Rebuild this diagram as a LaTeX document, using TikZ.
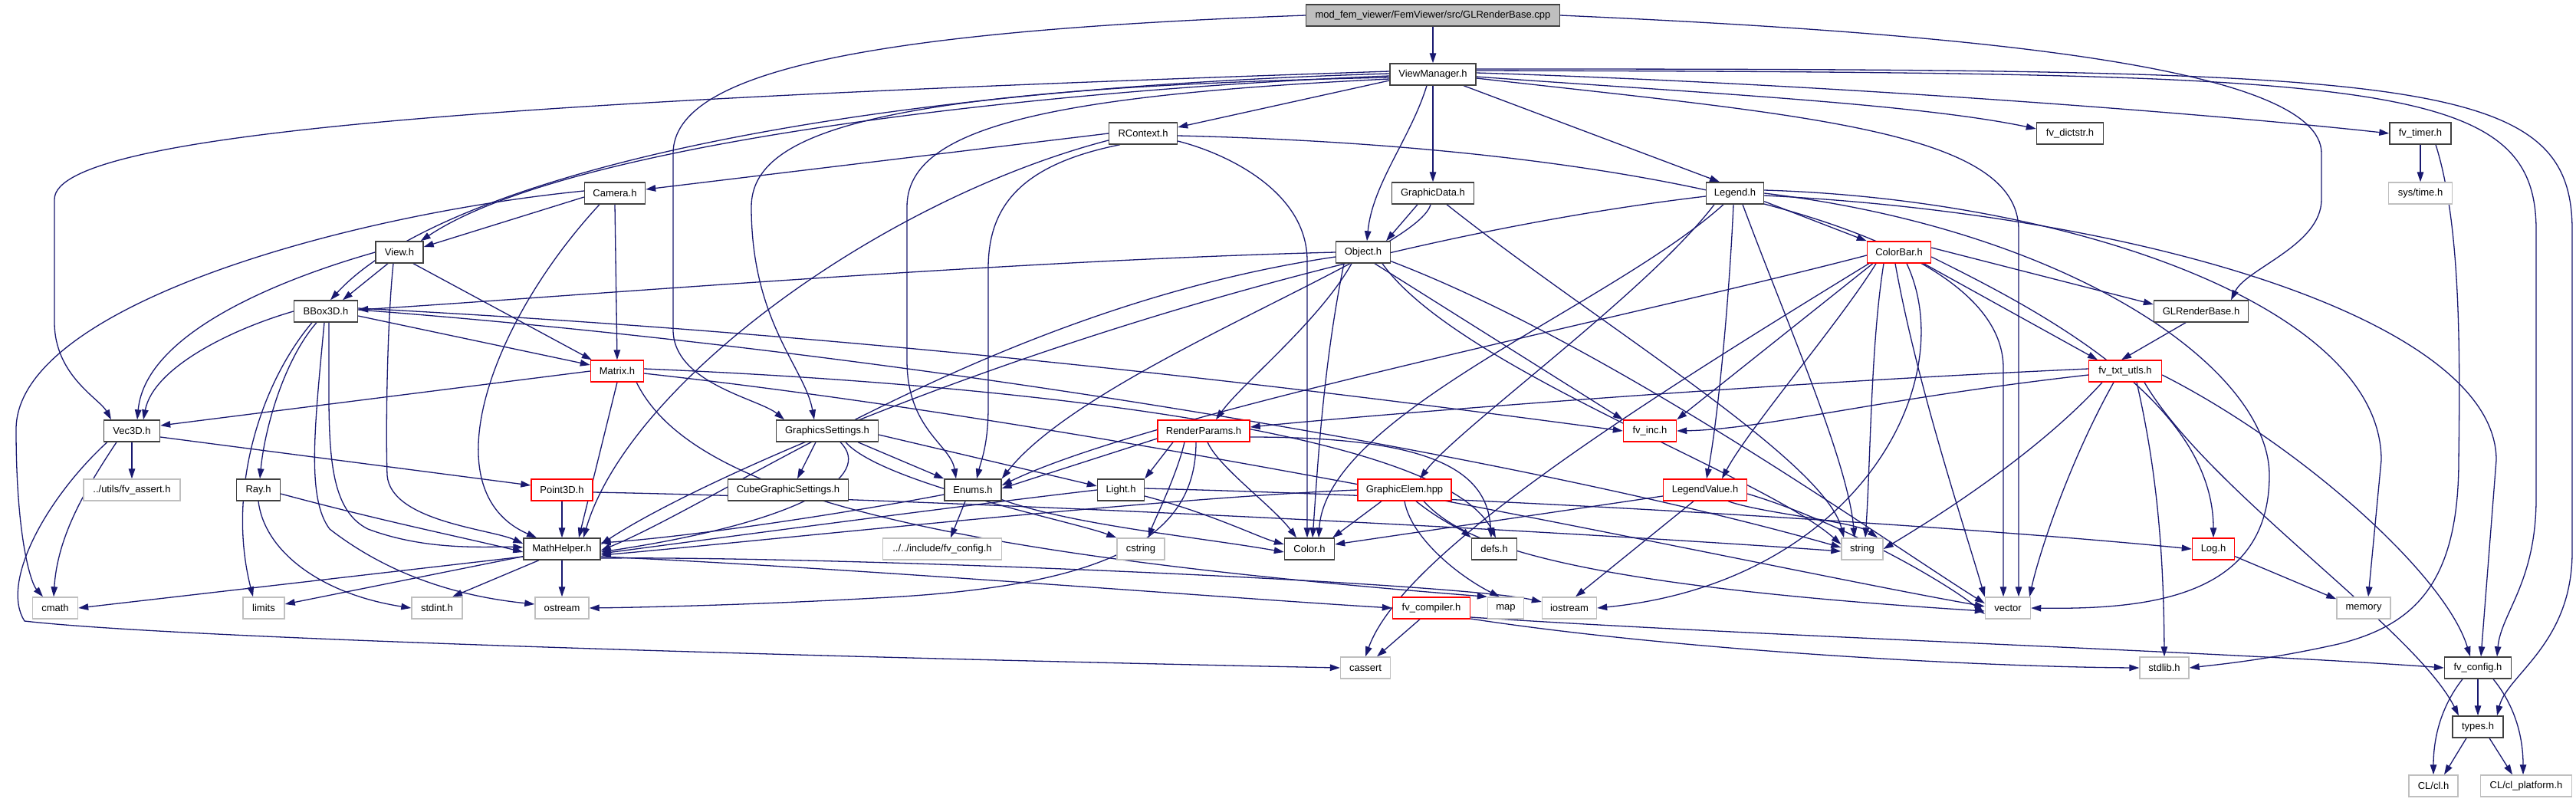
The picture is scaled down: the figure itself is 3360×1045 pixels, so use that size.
\documentclass[tikz,border=0pt]{standalone}
\usepackage{fontspec}
\setmainfont{Liberation Sans}
\usetikzlibrary{arrows.meta,calc}
\pgfdeclarelayer{bg}
\pgfsetlayers{bg,main}
\definecolor{edgec}{HTML}{191970}
\definecolor{extc}{HTML}{BFBFBF}
\definecolor{docc}{HTML}{404040}
\newcommand\mynode[5]{\node[#1, minimum width=#2pt] (#3) at (#4) {#5};}
\begin{document}
\begin{tikzpicture}[x=1pt,y=-1pt,
  base/.style={rectangle, inner xsep=2pt, inner ysep=0pt, minimum height=28pt, line width=1.4pt, font=\fontsize{13}{15}\selectfont, fill=white},
  doc/.style={base, draw=docc},
  trunc/.style={base, draw=red},
  ext/.style={base, draw=extc},
  root/.style={base, draw=docc, fill=extc},
  dep/.style={draw=edgec, line width=1.3pt, -{Triangle[length=13pt,width=8.5pt]}}
]
\useasboundingbox (0,0) rectangle (3360,1045);
\mynode{root}{331}{cpp}{1869,20}{mod\_fem\_viewer/FemViewer/src/GLRenderBase.cpp}
\mynode{doc}{112}{VM}{1869,97}{ViewManager.h}
\mynode{doc}{89}{RC}{1491,174}{RContext.h}
\mynode{doc}{87}{dict}{2700,174}{fv\_dictstr.h}
\mynode{doc}{80}{timer}{3157,174}{fv\_timer.h}
\mynode{doc}{79}{Cam}{802,252}{Camera.h}
\mynode{doc}{107}{GD}{1869,252}{GraphicData.h}
\mynode{doc}{75}{Leg}{2263,252}{Legend.h}
\mynode{ext}{83}{systime}{3157,252}{sys/time.h}
\mynode{doc}{62}{View}{521,329}{View.h}
\mynode{doc}{71}{Obj}{1778,329}{Object.h}
\mynode{trunc}{83}{CB}{2477,329}{ColorBar.h}
\mynode{doc}{83}{BB}{425,406}{BBox3D.h}
\mynode{doc}{123}{GLRB}{2871,406}{GLRenderBase.h}
\mynode{trunc}{69}{Mat}{805,484}{Matrix.h}
\mynode{trunc}{95}{txt}{2772,484}{fv\_txt\_utls.h}
\mynode{doc}{73}{Vec}{172,562}{Vec3D.h}
\mynode{doc}{133}{GS}{1079,562}{GraphicsSettings.h}
\mynode{trunc}{120}{RP}{1570,562}{RenderParams.h}
\mynode{trunc}{69}{inc}{2152,562}{fv\_inc.h}
\mynode{ext}{126}{assert}{172,639}{../utils/fv\_assert.h}
\mynode{doc}{57}{Ray}{337,639}{Ray.h}
\mynode{trunc}{80}{P3}{733,639}{Point3D.h}
\mynode{doc}{157}{CGS}{1028,639}{CubeGraphicSettings.h}
\mynode{doc}{74}{En}{1269,639}{Enums.h}
\mynode{doc}{61}{Li}{1462,639}{Light.h}
\mynode{trunc}{122}{GE}{1832,639}{GraphicElem.hpp}
\mynode{trunc}{109}{LV}{2224,639}{LegendValue.h}
\mynode{doc}{100}{MH}{733,716}{MathHelper.h}
\mynode{ext}{155}{icfg}{1229,716}{../../include/fv\_config.h}
\mynode{ext}{62}{cstr}{1488,716}{cstring}
\mynode{doc}{65}{Col}{1708,716}{Color.h}
\mynode{doc}{59}{defs}{1949,716}{defs.h}
\mynode{ext}{54}{str}{2429,716}{string}
\mynode{trunc}{55}{Log}{2887,716}{Log.h}
\mynode{ext}{59}{cmath}{72,793}{cmath}
\mynode{ext}{54}{limits}{344,793}{limits}
\mynode{ext}{66}{stdint}{570,793}{stdint.h}
\mynode{ext}{70}{ostr}{733,793}{ostream}
\mynode{trunc}{101}{comp}{1867,793}{fv\_compiler.h}
\mynode{ext}{47}{map}{1964,793}{map}
\mynode{ext}{71}{ios}{2047,793}{iostream}
\mynode{ext}{59}{vec}{2619,793}{vector}
\mynode{ext}{70}{mem}{3083,793}{memory}
\mynode{ext}{65}{cass}{1781,871}{cassert}
\mynode{ext}{64}{stdlib}{2823,871}{stdlib.h}
\mynode{doc}{87}{cfg}{3232,871}{fv\_config.h}
\mynode{doc}{66}{types}{3232,948}{types.h}
\mynode{ext}{64}{clh}{3174,1025}{CL/cl.h}
\mynode{ext}{119}{clp}{3295,1025}{CL/cl\_platform.h}
\begin{pgfonlayer}{bg}
\fill[white] (0,0) rectangle (3360,1045);
% cpp
\draw[dep] (cpp) -- (VM);
\draw[dep] (cpp.west) .. controls (1150,40) and (878,90) .. (878,200) -- (878,430) .. controls (878,500) and (990,520) .. ($(GS.north)+(-56,0)$);
\draw[dep] (cpp.east) .. controls (2600,45) and (3028,90) .. (3028,200) -- (3028,260) .. controls (3028,320) and (2930,350) .. ($(GLRB.north)+(39,0)$);
% VM
\draw[dep] ($(VM.west)+(0,8)$) -- ($(RC.east)+(0,-8)$);
\draw[dep] ($(VM.east)+(0,3)$) .. controls (2200,120) and (2500,135) .. ($(dict.west)+(0,-6)$);
\draw[dep] ($(VM.east)+(0,-2)$) .. controls (2400,110) and (2900,150) .. (timer.west);
\draw[dep] (VM) -- (GD);
\draw[dep] ($(VM.south)+(40,0)$) -- ($(Leg.north)+(-20,0)$);
\draw[dep] ($(VM.south)+(-8,0)$) .. controls (1840,180) and (1790,240) .. ($(Obj.north)+(5,0)$);
\draw[dep] ($(VM.west)+(0,2)$) .. controls (1400,115) and (750,180) .. ($(View.north east)+(-4,0)$);
\draw[dep] ($(VM.west)+(0,-1)$) .. controls (1000,120) and (560,250) .. ($(BB.north)+(6,0)$);
\draw[dep] ($(VM.west)+(0,-4)$) .. controls (700,130) and (71,170) .. (71,260) -- (71,420) .. controls (71,490) and (130,520) .. ($(Vec.north)+(-27,0)$);
\draw[dep] ($(VM.west)+(0,4)$) .. controls (1150,115) and (980,170) .. (980,270) .. controls (980,420) and (1050,480) .. ($(GS.north)+(-17,0)$);
\draw[dep] ($(VM.west)+(0,6)$) .. controls (1350,125) and (1183,170) .. (1183,270) -- (1183,470) .. controls (1183,560) and (1240,580) .. ($(En.north)+(-22,0)$);
\draw[dep] ($(VM.east)+(0,5)$) .. controls (2350,150) and (2633,170) .. (2633,300) -- ($(vec.north)+(14,0)$);
\draw[dep] ($(VM.east)+(0,-5)$) .. controls (3100,95) and (3308,100) .. (3308,300) -- (3308,650) .. controls (3308,760) and (3262,800) .. ($(cfg.north)+(25,0)$);
\draw[dep] ($(VM.east)+(0,-7)$) .. controls (3150,90) and (3355,95) .. (3355,300) -- (3355,720) .. controls (3355,840) and (3270,880) .. ($(types.north)+(25,0)$);
% RContext
\draw[dep] (RC.west) -- ($(Cam.east)+(0,-5)$);
\draw[dep] ($(RC.west)+(0,9)$) .. controls (1150,260) and (820,500) .. ($(MH.north)+(28,0)$);
\draw[dep] ($(RC.south)+(-30,0)$) .. controls (1330,215) and (1289,270) .. (1289,350) -- (1289,530) .. controls (1289,580) and (1280,600) .. ($(En.north)+(5,0)$);
\draw[dep] ($(RC.east)+(0,10)$) .. controls (1600,200) and (1705,250) .. (1705,340) -- ($(Col.north)+(-3,0)$);
\draw[dep] ($(RC.east)+(0,3)$) .. controls (2100,190) and (2613,290) .. (2613,480) -- ($(vec.north)+(-6,0)$);
% Camera
\draw[dep] ($(Cam.west)+(0,5)$) -- ($(View.east)+(0,-7)$);
\draw[dep] (Cam.south) -- (Mat.north);
\draw[dep] ($(Cam.south)+(-20,0)$) .. controls (640,420) and (560,640) .. ($(MH.north)+(-33,0)$);
\draw[dep] ($(Cam.west)+(0,-3)$) .. controls (450,280) and (21,400) .. (21,560) .. controls (21,700) and (40,760) .. ($(cmath.north)+(-16,0)$);
% View
\draw[dep] ($(View.south)+(-15,0)$) -- ($(BB.north)+(22,0)$);
\draw[dep] ($(View.south)+(18,0)$) -- ($(Mat.north west)+(2,0)$);
\draw[dep] (View.west) .. controls (380,360) and (190,430) .. ($(Vec.north)+(7,0)$);
\draw[dep] ($(View.south)+(-8,0)$) .. controls (505,420) and (503,560) .. (505,620) .. controls (510,680) and (640,690) .. ($(MH.west)+(0,-7)$);
% GraphicData
\draw[dep] ($(GD.south)+(-20,0)$) -- ($(Obj.north)+(30,0)$);
\draw[dep] ($(GD.south)+(-3,0)$) .. controls (1850,330) and (1420,480) .. (En.north east);
\draw[dep] ($(GD.south)+(18,0)$) .. controls (2080,420) and (2380,600) .. ($(str.north)+(-24,0)$);
% Legend
\draw[dep] ($(Leg.south east)+(0,-4)$) -- (CB.north west);
\draw[dep] ($(Leg.west)+(0,4)$) .. controls (1600,330) and (950,600) .. ($(MH.east)+(0,-6)$);
\draw[dep] ($(Leg.south)+(-27,0)$) .. controls (2150,380) and (1900,560) .. ($(GE.north)+(20,0)$);
\draw[dep] ($(Leg.south)+(-15,0)$) .. controls (2100,400) and (1730,540) .. ($(Col.north)+(12,0)$);
\draw[dep] ($(Leg.south)+(-2,0)$) .. controls (2255,400) and (2240,550) .. ($(LV.north)+(2,0)$);
\draw[dep] ($(Leg.south)+(10,0)$) .. controls (2330,420) and (2410,600) .. ($(str.north)+(-10,0)$);
\draw[dep] ($(Leg.east)+(0,-4)$) .. controls (2700,260) and (3106,400) .. (3106,600) -- ($(mem.north)+(6,0)$);
\draw[dep] (Leg.east) .. controls (2700,300) and (2960,480) .. (2960,620) .. controls (2960,780) and (2800,795) .. (vec.east);
\draw[dep] ($(Leg.east)+(0,3)$) .. controls (2800,280) and (3256,420) .. (3256,600) -- ($(cfg.north)+(4,0)$);
% ColorBar
\draw[dep] ($(CB.east)+(0,-6)$) -- ($(GLRB.west)+(0,-9)$);
\draw[dep] ($(CB.south east)+(-10,0)$) -- ($(txt.north)+(-36,0)$);
\draw[dep] ($(CB.south west)+(8,0)$) -- (inc.north east);
\draw[dep] ($(CB.west)+(0,4)$) .. controls (2100,420) and (1500,540) .. ($(En.east)+(0,-6)$);
\draw[dep] ($(CB.south)+(-30,0)$) .. controls (2400,420) and (2280,560) .. ($(LV.north)+(22,0)$);
\draw[dep] ($(CB.south)+(-20,0)$) .. controls (2440,450) and (2440,600) .. ($(str.north)+(4,0)$);
\draw[dep] ($(CB.south)+(-5,0)$) .. controls (2500,500) and (2560,680) .. (vec.north west);
\draw[dep] ($(CB.east)+(0,6)$) .. controls (2650,400) and (2887,520) .. (Log.north);
\draw[dep] ($(CB.south)+(10,0)$) .. controls (2560,500) and (2420,760) .. (ios.east);
\draw[dep] ($(CB.south west)+(3,0)$) .. controls (2150,520) and (1830,720) .. (cass.north);
% Object
\draw[dep] (Obj.west) .. controls (1300,340) and (700,390) .. ($(BB.east)+(0,-2)$);
\draw[dep] ($(Obj.west)+(0,6)$) .. controls (1300,400) and (950,650) .. ($(MH.east)+(0,2)$);
\draw[dep] ($(Obj.south)+(-15,0)$) .. controls (1720,420) and (1620,500) .. ($(RP.north)+(16,0)$);
\draw[dep] ($(Obj.south)+(15,0)$) -- (inc.north west);
\draw[dep] ($(Obj.south)+(-25,0)$) .. controls (1725,480) and (1718,620) .. ($(Col.north)+(4,0)$);
\draw[dep] ($(Obj.south)+(25,0)$) .. controls (1900,480) and (2300,620) .. ($(str.west)+(0,-6)$);
\draw[dep] ($(Obj.south east)+(0,-3)$) .. controls (2100,450) and (2450,700) .. ($(vec.west)+(0,-6)$);
% BBox3D
\draw[dep] (BB.west) .. controls (300,430) and (200,480) .. ($(Vec.north)+(15,0)$);
\draw[dep] ($(BB.east)+(0,6)$) -- ($(Mat.west)+(0,-8)$);
\draw[dep] ($(BB.south)+(-12,0)$) .. controls (370,470) and (345,560) .. ($(Ray.north)+(2,0)$);
\draw[dep] ($(BB.south)+(-18,0)$) .. controls (340,500) and (295,640) .. ($(limits.north)+(-14,0)$);
\draw[dep] ($(BB.south)+(-2,0)$) .. controls (410,560) and (400,650) .. (430,690) .. controls (520,760) and (620,780) .. ($(ostr.west)+(0,-5)$);
\draw[dep] ($(BB.south)+(4,0)$) .. controls (430,560) and (420,660) .. (480,690) .. controls (560,720) and (640,712) .. ($(MH.west)+(0,-2)$);
\draw[dep] ($(BB.east)+(0,-4)$) .. controls (1200,440) and (1800,520) .. (inc.west);
\draw[dep] ($(BB.east)+(0,-2)$) .. controls (1200,460) and (2000,600) .. ($(str.west)+(0,-2)$);
% Matrix
\draw[dep] (Mat.west) -- ($(Vec.east)+(0,-7)$);
\draw[dep] (Mat.south) -- ($(MH.north)+(22,0)$);
\draw[dep] ($(Mat.south east)+(-10,0)$) .. controls (900,640) and (1200,720) .. (map.north west);
\draw[dep] ($(Mat.east)+(0,-3)$) .. controls (1300,500) and (1880,560) .. ($(defs.north)+(2,0)$);
\draw[dep] ($(Mat.east)+(0,3)$) .. controls (1500,560) and (2300,740) .. ($(vec.west)+(0,-2)$);
% Vec3D
\draw[dep] (Vec) -- (assert);
\draw[dep] ($(Vec.east)+(0,8)$) -- ($(P3.west)+(0,-6)$);
\draw[dep] ($(Vec.south)+(-20,0)$) .. controls (110,640) and (75,700) .. ($(cmath.north)+(-2,0)$);
\draw[dep] ($(Vec.south west)+(5,0)$) .. controls (60,650) and (0,760) .. (32,810) .. controls (250,835) and (1200,860) .. (cass.west);
% GraphicsSettings
\draw[dep] ($(GS.south)+(-15,0)$) -- ($(CGS.north)+(12,0)$);
\draw[dep] ($(GS.south)+(40,0)$) -- (En.north west);
\draw[dep] ($(GS.east)+(0,5)$) -- ($(Li.west)+(0,-5)$);
\draw[dep] ($(GS.south)+(17,0)$) .. controls (1140,620) and (1050,680) .. ($(MH.east)+(0,4)$);
\draw[dep] ($(GS.south)+(24,0)$) .. controls (1150,630) and (1400,680) .. (cstr.north west);
% RenderParams
\draw[dep] ($(RP.west)+(0,10)$) -- ($(En.east)+(0,-2)$);
\draw[dep] ($(RP.south)+(-40,0)$) -- (Li.north east);
\draw[dep] ($(RP.south)+(-25,0)$) .. controls (1535,620) and (1505,680) .. ($(cstr.north)+(10,0)$);
\draw[dep] ($(RP.south)+(-10,0)$) .. controls (1560,700) and (1450,765) .. (1141,780) .. controls (1000,788) and (850,792) .. (ostr.east);
\draw[dep] ($(RP.south)+(5,0)$) .. controls (1590,610) and (1660,660) .. ($(Col.north)+(-17,0)$);
\draw[dep] ($(RP.east)+(0,8)$) .. controls (1860,570) and (1940,610) .. ($(defs.north)+(-4,0)$);
% Light
\draw[dep] (Li.west) .. controls (1250,660) and (950,700) .. ($(MH.east)+(0,6)$);
\draw[dep] ($(Li.east)+(0,8)$) .. controls (1580,670) and (1640,700) .. ($(Col.west)+(0,-6)$);
\draw[dep] ($(Li.east)+(0,-2)$) .. controls (2000,650) and (2600,690) .. (Log.west);
% Enums
\draw[dep] ($(En.south)+(-10,0)$) -- ($(icfg.north)+(11,0)$);
\draw[dep] ($(En.west)+(0,6)$) .. controls (1100,670) and (900,700) .. ($(MH.east)+(0,-8)$);
\draw[dep] ($(En.south east)+(0,-2)$) .. controls (1400,685) and (1560,700) .. ($(Col.west)+(0,4)$);
% Point3D
\draw[dep] (P3) -- (MH);
\draw[dep] ($(P3.east)+(0,3)$) .. controls (1200,650) and (2000,690) .. ($(str.west)+(0,3)$);
% Ray
\draw[dep] ($(Ray.east)+(0,5)$) .. controls (500,680) and (600,700) .. ($(MH.west)+(0,4)$);
\draw[dep] (Ray.south) .. controls (345,720) and (420,775) .. (stdint.west);
% GraphicElem
\draw[dep] (GE.west) .. controls (1500,650) and (950,710) .. ($(MH.east)+(0,8)$);
\draw[dep] ($(GE.south)+(-30,0)$) -- ($(Col.north east)+(-3,0)$);
\draw[dep] (GE.south) .. controls (1840,700) and (1900,750) .. ($(map.north)+(-8,0)$);
\draw[dep] ($(GE.south)+(15,0)$) .. controls (1880,680) and (1905,690) .. (defs.north west);
\draw[dep] ($(GE.south)+(25,0)$) .. controls (1900,700) and (2000,760) .. ($(vec.west)+(0,4)$);
% LegendValue
\draw[dep] ($(LV.west)+(0,8)$) -- ($(Col.east)+(0,-6)$);
\draw[dep] ($(LV.south)+(30,0)$) .. controls (2300,670) and (2420,680) .. ($(str.north)+(20,0)$);
\draw[dep] ($(LV.south)+(-15,0)$) -- ($(ios.north)+(8,0)$);
\draw[dep] ($(LV.east)+(0,5)$) .. controls (2400,680) and (2540,760) .. ($(vec.west)+(0,8)$);
% fv_txt_utls
\draw[dep] ($(txt.west)+(0,-3)$) .. controls (2300,500) and (1800,540) .. ($(RP.east)+(0,-5)$);
\draw[dep] ($(txt.west)+(0,5)$) .. controls (2450,520) and (2300,560) .. (inc.east);
\draw[dep] ($(txt.south)+(-30,0)$) .. controls (2650,600) and (2500,690) .. (str.east);
\draw[dep] ($(txt.south)+(-15,0)$) .. controls (2700,600) and (2660,720) .. ($(vec.north east)+(-2,0)$);
\draw[dep] ($(txt.south)+(15,0)$) .. controls (2810,600) and (2822,700) .. (stdlib.north);
\draw[dep] ($(txt.south)+(25,0)$) .. controls (2880,640) and (3150,820) .. ($(types.north)+(-25,0)$);
\draw[dep] ($(txt.east)+(0,5)$) .. controls (3000,580) and (3190,750) .. ($(cfg.north)+(-10,0)$);
% GLRenderBase
\draw[dep] ($(GLRB.south)+(-20,0)$) -- ($(txt.north)+(-5,0)$);
% fv_timer
\draw[dep] (timer) -- (systime);
\draw[dep] ($(timer.south)+(20,0)$) .. controls (3209,290) and (3209,450) .. (3207,600) .. controls (3207,760) and (3150,815) .. (3050,840) .. controls (2960,860) and (2900,866) .. (stdlib.east);
% Log
\draw[dep] ($(Log.south east)+(0,-5)$) -- ($(mem.north west)+(0,3)$);
% MathHelper
\draw[dep] ($(MH.west)+(0,10)$) -- (cmath.east);
\draw[dep] ($(MH.south west)+(0,-5)$) -- ($(limits.east)+(0,-5)$);
\draw[dep] ($(MH.south)+(-30,0)$) -- ($(stdint.north)+(20,0)$);
\draw[dep] (MH) -- (ostr);
\draw[dep] ($(MH.east)+(0,10)$) .. controls (1100,740) and (1600,780) .. (comp.west);
\draw[dep] ($(MH.east)+(0,12)$) .. controls (1100,725) and (1900,760) .. ($(ios.west)+(0,-8)$);
% fv_compiler
\draw[dep] ($(comp.south)+(-15,0)$) -- ($(cass.north)+(15,0)$);
\draw[dep] ($(comp.east)+(0,12)$) .. controls (2300,830) and (2900,850) .. (cfg.west);
\draw[dep] ($(comp.east)+(0,14)$) .. controls (2200,850) and (2600,870) .. (stdlib.west);
% fv_config / types
\draw[dep] (cfg) -- (types);
\draw[dep] ($(cfg.south)+(-20,0)$) .. controls (3185,920) and (3174,960) .. (clh.north);
\draw[dep] ($(cfg.south)+(20,0)$) .. controls (3280,920) and (3291,960) .. ($(clp.north)+(-4,0)$);
\draw[dep] ($(types.south)+(-15,0)$) -- ($(clh.north)+(14,0)$);
\draw[dep] ($(types.south)+(15,0)$) -- ($(clp.north)+(-18,0)$);
\end{pgfonlayer}
\end{tikzpicture}
\end{document}
